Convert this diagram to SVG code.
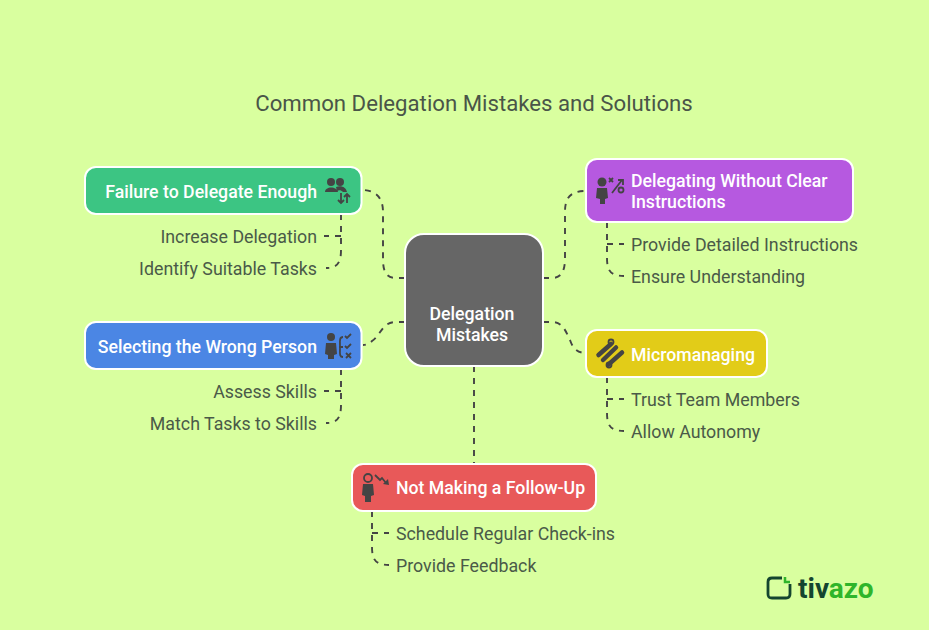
<svg xmlns="http://www.w3.org/2000/svg" width="929" height="630" viewBox="0 0 929 630">
<style>
text{font-family:Roboto,"Liberation Sans",sans-serif}
.title{font-size:22.2px;fill:#4a5548;text-anchor:middle}
.n{font-size:17.7px;fill:#fff;font-weight:500}
.s{font-size:17.8px;fill:#4a5a48}
.e{text-anchor:end}
.box{stroke:#fff;stroke-width:2}
.c{fill:none;stroke:#444;stroke-width:1.9;stroke-dasharray:6 6}
.i{fill:#444}
.il{fill:none;stroke:#444;stroke-width:1.8}
</style>
<rect width="929" height="630" fill="#d9ff9f"/>
<text class="title" x="474" y="110.500">Common Delegation Mistakes and Solutions</text>
<g id="connectors">
<path class="c" d="M405 278H396C384 278 383 268 383 258V212C383 200 378 191 364 190"/>
<path class="c" d="M405 322H396C382 322 381 335 372 341C369 344 366 345 363 345"/>
<path class="c" d="M543 278H552C563 278 565 268 565 258V212C565 198 570 191 586 191"/>
<path class="c" d="M543 322H552C563 322 566 332 570 340C573 349 578 353 586 353"/>
<path class="c" d="M474 366V464"/>
<path class="c" d="M341 214V250C341 262 338 268 326 268"/>
<path class="c" d="M341 236H324"/>
<path class="c" d="M341 369V405C341 417 338 423 326 423"/>
<path class="c" d="M341 391H324"/>
<path class="c" d="M607 222V258C607 270 610 276 624 276"/>
<path class="c" d="M607 244H624"/>
<path class="c" d="M607 377V413C607 425 610 431 624 431"/>
<path class="c" d="M607 399H624"/>
<path class="c" d="M372 511V547C372 559 375 565 389 565"/>
<path class="c" d="M372 533H389"/>
</g>
<g id="center"><rect class="box" x="405" y="234" width="138" height="132" rx="19" fill="#666"/>
<text class="n" x="472" y="320" text-anchor="middle">Delegation</text><text class="n" x="472" y="341" text-anchor="middle">Mistakes</text></g>
<g id="failure"><rect class="box" x="85" y="167" width="276.500" height="47" rx="11" fill="#3cc583"/>
<text class="n e" x="317" y="197.500">Failure to Delegate Enough</text>
<g><circle class="i" cx="331" cy="182" r="4"/><circle class="i" cx="340" cy="182" r="4"/><path class="i" d="M325 192C325 186 337 186 338 192Z"/><path class="i" d="M336 187C341 185 346 187 347 192L343 192C341 190 339 190 337 191Z"/><path class="il" d="M341 193V203M338 200L341 203L344 200M347 203V194M344 197L347 194L350 197"/></g></g>
<g id="wrong"><rect class="box" x="85" y="322" width="276.500" height="47" rx="11" fill="#4b86e4"/>
<text class="n e" x="317" y="352.500">Selecting the Wrong Person</text>
<g><circle class="i" cx="331" cy="337" r="4"/><path class="i" d="M326 343H336L337 354L334 355V359H328V355L325 354Z"/><path class="il" d="M343 337C339 337 340 342 340 347C340 353 339 357 343 357M343 347H339"/><path class="il" d="M345 336L347 338L351 334M345 346L347 348L351 344M346 353L351 358M351 353L346 358"/></g></g>
<g id="clear"><rect class="box" x="586" y="159" width="267" height="63" rx="11" fill="#b659e0"/>
<text class="n" x="631" y="186.500">Delegating Without Clear</text><text class="n" x="631" y="207.500">Instructions</text>
<g><circle class="i" cx="602" cy="182" r="4.500"/><path class="i" d="M597 188H607L608 198L605 199V204H600V199L596 198Z"/><path class="il" d="M609 178L613 182M613 178L609 182M612 193L622 180M618 180H623V185"/><circle class="il" cx="621" cy="190" r="2.500"/></g></g>
<g id="micro"><rect class="box" x="586" y="330" width="181" height="47" rx="11" fill="#e2cc18"/>
<text class="n" x="631" y="360.500">Micromanaging</text>
<g><path d="M598.500 355L611 344M603 360L616 347.500M608.500 364.500L622 352.500" fill="none" stroke="#444" stroke-width="4.500" stroke-linecap="round"/><circle class="il" cx="611" cy="342" r="2.500"/><circle class="il" cx="609" cy="365" r="2.500"/></g></g>
<g id="followup"><rect class="box" x="352" y="464" width="244" height="47" rx="11" fill="#e85959"/>
<text class="n" x="396" y="493.500">Not Making a Follow-Up</text>
<g><circle class="il" cx="368" cy="478" r="4"/><path class="i" d="M363 484H373L374 495L371 496V502H365V496L362 495Z"/><path class="il" d="M375 475L380 480L382 478L386 483"/><path class="i" d="M383 484L389 485L388 479Z"/></g></g>
<text class="s e" x="317" y="242.500">Increase Delegation</text>
<text class="s e" x="317" y="274.500">Identify Suitable Tasks</text>
<text class="s e" x="317" y="397.500">Assess Skills</text>
<text class="s e" x="317" y="429.500">Match Tasks to Skills</text>
<text class="s" x="631" y="250.500">Provide Detailed Instructions</text>
<text class="s" x="631" y="282.500">Ensure Understanding</text>
<text class="s" x="631" y="405.500">Trust Team Members</text>
<text class="s" x="631" y="437.500">Allow Autonomy</text>
<text class="s" x="396" y="539.500">Schedule Regular Check-ins</text>
<text class="s" x="396" y="571.500">Provide Feedback</text>
<g id="logo"><path d="M782 578H772C769 578 768 580 768 582V594C768 597 769 598 772 598H786C788 598 790 597 790 594V584" fill="none" stroke="#14452f" stroke-width="2.800"/><path d="M785 577V582H790" fill="none" stroke="#2fb52a" stroke-width="2.500"/>
<text x="798" y="598" font-size="28" font-weight="700" fill="#14452f">tiv<tspan fill="#2fb52a">azo</tspan></text></g>
</svg>
